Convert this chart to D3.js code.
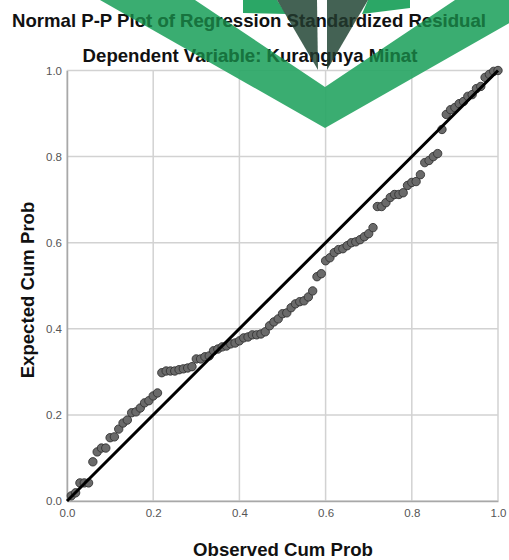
<!DOCTYPE html>
<html><head><meta charset="utf-8">
<script src="https://cdn.jsdelivr.net/npm/d3@7/dist/d3.min.js"></script>
<style>body{margin:0;background:#fff}svg{display:block}text{font-family:"Liberation Sans",Arial,sans-serif}</style>
</head><body>
<script>
// Data
const observed = d3.range(1, 101).map(i => i / 100);
const expected = [0.012,0.019,0.042,0.042,0.042,0.091,0.114,0.123,0.123,0.147,
0.149,0.167,0.181,0.188,0.205,0.207,0.216,0.228,0.233,0.244,
0.251,0.298,0.302,0.302,0.302,0.305,0.307,0.309,0.312,0.330,
0.330,0.335,0.337,0.349,0.353,0.358,0.360,0.365,0.367,0.372,
0.379,0.381,0.386,0.386,0.388,0.393,0.407,0.416,0.423,0.435,
0.437,0.449,0.458,0.463,0.465,0.474,0.488,0.521,0.528,0.558,
0.565,0.577,0.584,0.586,0.593,0.600,0.602,0.607,0.614,0.621,
0.635,0.684,0.684,0.693,0.705,0.712,0.712,0.716,0.733,0.740,
0.742,0.758,0.786,0.791,0.800,0.807,0.863,0.898,0.909,0.914,
0.923,0.928,0.940,0.944,0.958,0.963,0.984,0.991,0.998,1.000];
const tickValues = [0, 0.2, 0.4, 0.6, 0.8, 1.0];
const titleText = "Normal P-P Plot of Regression Standardized Residual";
const subtitleText = "Dependent Variable: Kurangnya Minat";
const xLabel = "Observed Cum Prob";
const yLabel = "Expected Cum Prob";

const W = 509, H = 560;
const svg = d3.select("body").append("svg").attr("width", W).attr("height", H);
const x = d3.scaleLinear().domain([0, 1]).range([67, 498]);
const y = d3.scaleLinear().domain([0, 1]).range([501, 70.5]);

// grid
const g = svg.append("g");
g.selectAll(".vg").data(tickValues).join("line")
  .attr("x1", d => x(d)).attr("x2", d => x(d)).attr("y1", y(0)).attr("y2", y(1))
  .attr("stroke", "#d2d2d2").attr("stroke-width", 1.5);
g.selectAll(".hg").data(tickValues).join("line")
  .attr("y1", d => y(d)).attr("y2", d => y(d)).attr("x1", x(0)).attr("x2", x(1))
  .attr("stroke", "#d2d2d2").attr("stroke-width", 1.5);
// axes
const xAxis = d3.axisBottom(x).tickValues(tickValues).tickFormat(d3.format(".1f")).tickSize(0).tickPadding(8);
const yAxis = d3.axisLeft(y).tickValues(tickValues).tickFormat(d3.format(".1f")).tickSize(0).tickPadding(5);
const gx = svg.append("g").attr("transform", `translate(0,${y(0)})`).call(xAxis);
const gy = svg.append("g").attr("transform", `translate(${x(0)},0)`).call(yAxis);
[gx, gy].forEach(a => {
  a.select(".domain").attr("stroke", "#a8a8a8").attr("stroke-width", 1.5);
  a.selectAll("text").attr("font-size", 11.5).attr("fill", "#555").attr("font-family", '"Liberation Sans",Arial,sans-serif');
});

// points
const pts = observed.map((o, i) => [o, expected[i]]);
svg.append("g").selectAll("circle").data(pts).join("circle")
  .attr("cx", d => x(d[0])).attr("cy", d => y(d[1])).attr("r", 4.2)
  .attr("fill", "#6a6a6a").attr("stroke", "#333").attr("stroke-width", 0.9);
// reference line
svg.append("line").attr("x1", x(0)).attr("y1", y(0)).attr("x2", x(1)).attr("y2", y(1))
  .attr("stroke", "#000").attr("stroke-width", 3);

// texts
function texts(sel, fill) {
  sel.append("text").attr("x", 249).attr("y", 27).attr("text-anchor", "middle")
    .attr("font-size", 18.6).attr("font-weight", "bold").attr("fill", fill).text(titleText);
  sel.append("text").attr("x", 250).attr("y", 62).attr("text-anchor", "middle")
    .attr("font-size", 18.6).attr("font-weight", "bold").attr("fill", fill).text(subtitleText);
}
texts(svg.append("g"), "#111");
svg.append("text").attr("x", 283).attr("y", 556).attr("text-anchor", "middle")
  .attr("font-size", 18.6).attr("font-weight", "bold").attr("fill", "#111").text(xLabel);
svg.append("text").attr("transform", "translate(34,290) rotate(-90)").attr("text-anchor", "middle")
  .attr("font-size", 18.6).attr("font-weight", "bold").attr("fill", "#111").text(yLabel);

// watermark logo overlay
const band = [[100,0],[325,128],[550,0],[455,0],[325,87],[195,0]];
const slivers = [[[243,0],[277,0],[286,14],[243,13]], [[368,0],[410,0],[410,8],[362,14]]];
const dark = [[[277,0],[317,0],[318,70]], [[327,0],[368,0],[327,70]]];
const defs = svg.append("defs");
const cpG = defs.append("clipPath").attr("id", "cpg");
cpG.append("polygon").attr("points", band.join(" "));
const cpD = defs.append("clipPath").attr("id", "cpd");
dark.forEach(p => cpD.append("polygon").attr("points", p.join(" ")));

const logo = svg.append("g");
logo.append("polygon").attr("points", band.join(" ")).attr("fill", "#2ba766").attr("fill-opacity", 0.93);
slivers.forEach(p => logo.append("polygon").attr("points", p.join(" ")).attr("fill", "#2ba766"));
texts(logo.append("g").attr("clip-path", "url(#cpg)"), "#17733e");
dark.forEach(p => logo.append("polygon").attr("points", p.join(" ")).attr("fill", "#3a5a4b").attr("fill-opacity", 0.95));
texts(logo.append("g").attr("clip-path", "url(#cpd)"), "#1f3329");
</script>
</body></html>
